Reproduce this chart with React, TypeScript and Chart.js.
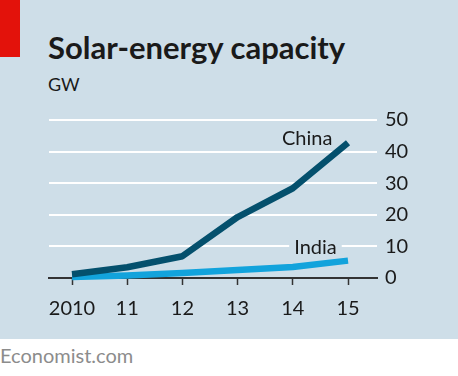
import React, { useEffect, useRef } from "react";
import { Chart, registerables } from "chart.js";
Chart.register(...registerables);

const years = [2010, 2011, 2012, 2013, 2014, 2015];
const xTickLabels = ["2010", "11", "12", "13", "14", "15"];
const china = [1.2, 3.4, 6.9, 19.3, 28.4, 42.8];
const india = [0.3, 0.8, 1.6, 2.5, 3.5, 5.5];
const yTicks = [0, 10, 20, 30, 40, 50];
const seriesNames = ["China", "India"];
const seriesColors = ["#04506d", "#12a3dc"];
// label anchors in data coordinates (x: year, y: GW at text baseline)
const labelAnchors = [
  { x: 2014.26, y: 42.2, boxed: false },
  { x: 2014.41, y: 7.6, boxed: true },
];

const BG = "#cedee8";
const FONT = "Lato, 'Noto Sans', sans-serif";

const labelPlugin = {
  id: "seriesLabels",
  beforeDatasetsDraw(chart: any) {
    const { ctx, scales } = chart;
    ctx.save();
    ctx.font = `20px ${FONT}`;
    labelAnchors.forEach((a, i) => {
      if (!a.boxed) return;
      const x = scales.x.getPixelForValue(a.x);
      const y = scales.y.getPixelForValue(a.y);
      const w = ctx.measureText(seriesNames[i]).width;
      ctx.fillStyle = BG;
      ctx.fillRect(x - w / 2 - 5, y - 19, w + 10, 23);
    });
    ctx.restore();
  },
  afterDatasetsDraw(chart: any) {
    const { ctx, scales } = chart;
    ctx.save();
    ctx.font = `20px ${FONT}`;
    ctx.fillStyle = "#1a1a1a";
    ctx.textAlign = "center";
    ctx.textBaseline = "alphabetic";
    labelAnchors.forEach((a, i) => {
      const x = scales.x.getPixelForValue(a.x);
      const y = scales.y.getPixelForValue(a.y);
      ctx.fillText(seriesNames[i], x, y);
    });
    ctx.restore();
  },
};

export default function App() {
  const ref = useRef<HTMLCanvasElement>(null);
  useEffect(() => {
    document.body.style.margin = "0";
    const chart = new Chart(ref.current!, {
      type: "line",
      data: {
        datasets: [china, india].map((vals, i) => ({
          label: seriesNames[i],
          data: vals.map((v, j) => ({ x: years[j], y: v })),
          borderColor: seriesColors[i],
          backgroundColor: seriesColors[i],
          borderWidth: 6.5,
          pointRadius: 0,
          tension: 0,
          borderCapStyle: "butt",
          borderJoinStyle: "round",
          clip: false,
        })),
      },
      options: {
        animation: false,
        responsive: false,
        devicePixelRatio: 1,
        layout: { padding: { left: 49, top: 120, right: 0, bottom: 0 } },
        plugins: { legend: { display: false }, tooltip: { enabled: false } },
        scales: {
          x: {
            type: "linear",
            min: 2009.583,
            max: 2015.525,
            afterFit(scale: any) {
              scale.height = 61;
            },
            afterBuildTicks(scale: any) {
              scale.ticks = years.map((v) => ({ value: v }));
            },
            ticks: {
              autoSkip: false,
              maxRotation: 0,
              padding: 12,
              color: "#1a1a1a",
              font: { family: FONT, size: 20 },
              callback: (v: any) => xTickLabels[years.indexOf(Number(v))] ?? "",
            },
            grid: {
              drawOnChartArea: false,
              drawTicks: true,
              tickLength: 7,
              tickColor: "#333",
              tickWidth: 1.5,
            },
            border: { display: true, color: "#333", width: 2 },
          },
          y: {
            position: "right",
            min: 0,
            max: 50,
            afterFit(scale: any) {
              scale.width = 81;
            },
            afterBuildTicks(scale: any) {
              scale.ticks = yTicks.map((v) => ({ value: v }));
            },
            ticks: {
              padding: 8,
              color: "#1a1a1a",
              font: { family: FONT, size: 20 },
            },
            grid: {
              drawTicks: false,
              lineWidth: 2,
              color: (c: any) => (c.tick && c.tick.value === 0 ? "rgba(0,0,0,0)" : "#ffffff"),
            },
            border: { display: false },
          },
        },
      },
      plugins: [labelPlugin],
    } as any);
    return () => chart.destroy();
  }, []);

  return (
    <div style={{ position: "absolute", left: 0, top: 0, width: 458, height: 376, background: "#fff", overflow: "hidden" }}>
      <div style={{ position: "absolute", left: 0, top: 0, width: 458, height: 339, background: BG }} />
      <div style={{ position: "absolute", left: 0, top: 0, width: 20, height: 57, background: "#e3120b" }} />
      <div style={{ position: "absolute", left: 48, top: 27.5, fontFamily: FONT, fontWeight: 700, fontSize: 31, lineHeight: "normal", color: "#1a1a1a", whiteSpace: "nowrap" }}>
        Solar-energy capacity
      </div>
      <div style={{ position: "absolute", left: 48, top: 73, fontFamily: FONT, fontSize: 18, lineHeight: "normal", color: "#1a1a1a", whiteSpace: "nowrap" }}>
        GW
      </div>
      <canvas ref={ref} width={458} height={339} style={{ position: "absolute", left: 0, top: 0, width: 458, height: 339 }} />
      <div style={{ position: "absolute", left: 0, top: 343, fontFamily: FONT, fontSize: 20, lineHeight: "normal", color: "#8c8c8c", whiteSpace: "nowrap" }}>
        Economist.com
      </div>
    </div>
  );
}
